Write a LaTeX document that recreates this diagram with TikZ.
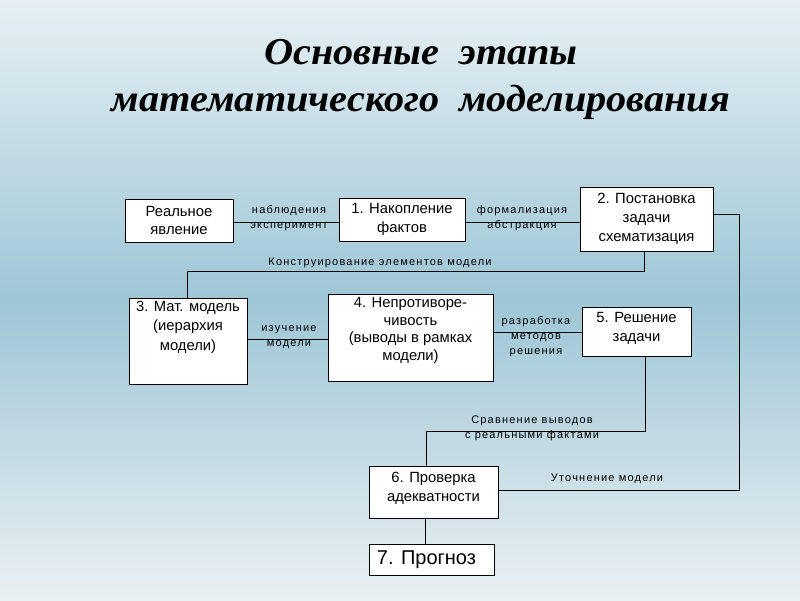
\documentclass[tikz,border=0pt]{standalone}
\usepackage{fontspec}
\setmainfont{Liberation Sans}
\newfontfamily\titlefont{Liberation Serif}
\usetikzlibrary{calc}
\definecolor{bgtop}{RGB}{230,240,244}
\definecolor{bgmid}{RGB}{158,198,214}
\definecolor{bgbot}{RGB}{234,240,243}
\tikzset{
  stagebox/.style={draw=black, fill=white, line width=0.9pt, inner sep=0pt},
  boxtext/.style={align=center, inner sep=0pt, font=\fontsize{14.8}{18.5}\selectfont},
  lbl/.style={align=center, inner sep=0pt, font=\fontsize{11}{15}\selectfont\addfontfeatures{LetterSpace=11}},
  conn/.style={draw=black, line width=0.9pt},
  ttl/.style={inner sep=0pt, anchor=base, font=\titlefont\bfseries\itshape\fontsize{38}{44}\selectfont}
}
\begin{document}
\begin{tikzpicture}[x=1pt,y=-1pt]
\useasboundingbox (0,0) rectangle (800,600);
\shade[top color=bgtop, bottom color=bgbot, middle color=bgmid] (0,0) rectangle (800,600);

% title
\node[ttl] (t1) at (421,64) {\scalebox{1.06}[1]{Основные\ \ этапы}};
\node[ttl] (t2) at (421,111) {\scalebox{1.06}[1]{математического\ \ моделирования}};

% boxes
\node[stagebox, minimum width=108, minimum height=43] (real) at (179,220.5) {};
\node[boxtext] (realt) at (179,220.5) {Реальное\\явление};
\node[stagebox, minimum width=126, minimum height=43] (n1) at (402,219.5) {};
\node[boxtext] (n1t) at (402,219.5) {1. Накопление\\фактов};
\node[stagebox, minimum width=133, minimum height=64] (n2) at (646.5,219) {};
\node[boxtext, font=\fontsize{14.8}{19}\selectfont] (n2t) at (646.5,218.5) {2. Постановка\\задачи\\схематизация};
\node[stagebox, minimum width=118, minimum height=86] (n3) at (188,341) {};
\node[boxtext, font=\fontsize{14.8}{19.5}\selectfont] (n3t) at (188,327) {3. Мат. модель\\(иерархия\\модели)};
\node[stagebox, minimum width=165, minimum height=87] (n4) at (410.5,337.5) {};
\node[boxtext, font=\fontsize{14.8}{17.4}\selectfont] (n4t) at (410.5,330.5) {4. Непротиворе-\\чивость\\(выводы в рамках\\модели)};
\node[stagebox, minimum width=109, minimum height=49] (n5) at (636.5,331.5) {};
\node[boxtext] (n5t) at (636.5,328.5) {5. Решение\\задачи};
\node[stagebox, minimum width=129, minimum height=52] (n6) at (433.5,492) {};
\node[boxtext] (n6t) at (433.5,488.5) {6. Проверка\\адекватности};
\node[stagebox, minimum width=125, minimum height=31] (n7) at (431.5,559.5) {};
\node[boxtext, font=\fontsize{20}{22}\selectfont] (n7t) at (426.5,560) {7. Прогноз};

% helper coordinates
\coordinate (h1) at (0,222);
\coordinate (r1) at (739,214);
\coordinate (r2) at (739,490);
\coordinate (k1) at (644,271);
\coordinate (k2) at (187,271);
\coordinate (m1) at (0,339);
\coordinate (m2) at (0,332);
\coordinate (s1) at (645,431);
\coordinate (s2) at (426,431);
\coordinate (p1) at (425,0);

% connectors
\draw[conn] (h1 -| real.east) -- (h1 -| n1.west);
\draw[conn] (h1 -| n1.east) -- (h1 -| n2.west);
\draw[conn] (r1 -| n2.east) -- (r1) -- (r2) -- (r2 -| n6.east);
\draw[conn] (k1 |- n2.south) -- (k1) -- (k2) -- (k2 |- n3.north);
\draw[conn] (m1 -| n3.east) -- (m1 -| n4.west);
\draw[conn] (m2 -| n4.east) -- (m2 -| n5.west);
\draw[conn] (s1 |- n5.south) -- (s1) -- (s2) -- (s2 |- n6.north);
\draw[conn] (p1 |- n6.south) -- (p1 |- n7.north);

% labels
\node[lbl] (l1) at (289,218.5) {наблюдения\\эксперимент};
\node[lbl] (l2) at (522,218.5) {формализация\\абстракция};
\node[lbl] (l3) at (380,263) {Конструирование элементов модели};
\node[lbl] (l4) at (289,337) {изучение\\модели};
\node[lbl] (l5) at (536,337) {разработка\\методов\\решения};
\node[lbl] (l6) at (532,428.5) {Сравнение выводов\\с реальными фактами};
\node[lbl] (l7) at (607,479) {Уточнение модели};
\end{tikzpicture}
\end{document}
